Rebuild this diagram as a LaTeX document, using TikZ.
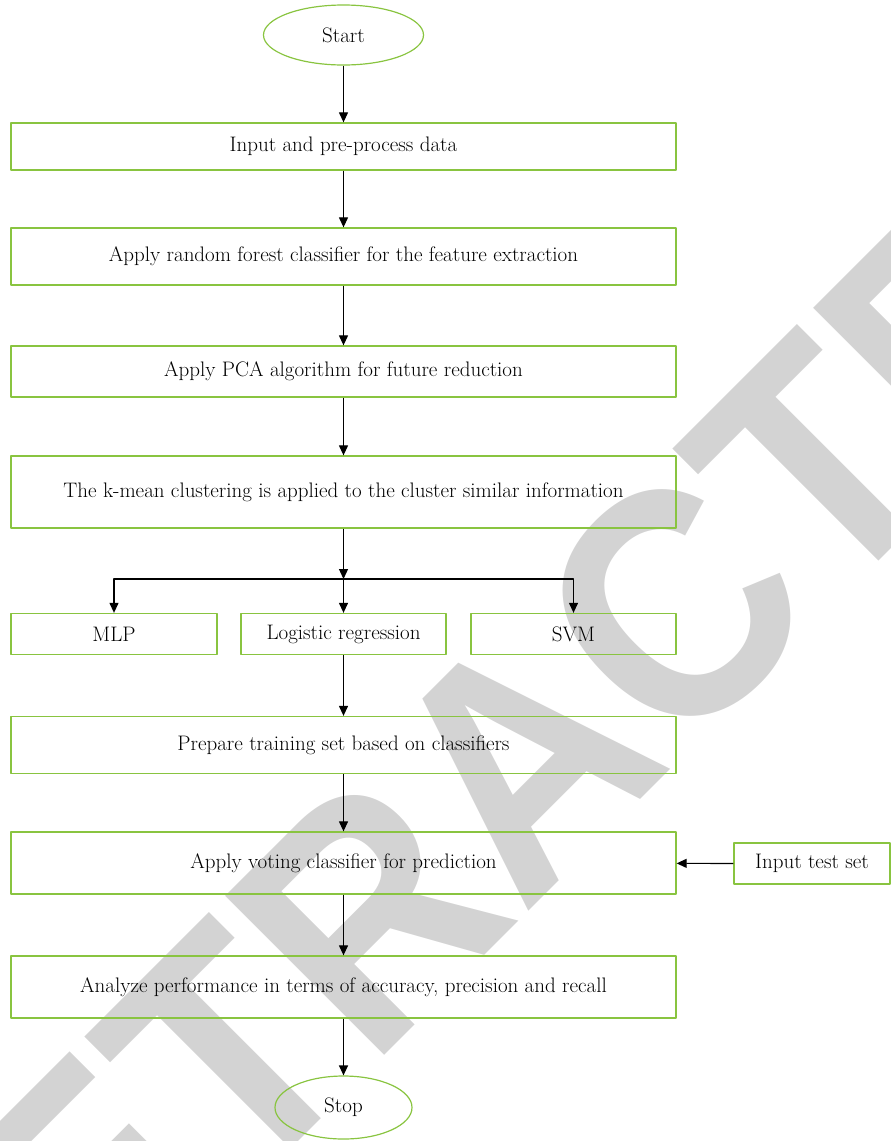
\documentclass[tikz,border=0pt]{standalone}
\usepackage{fontspec}
\newfontfamily\wmfont{Liberation Sans}
\usetikzlibrary{arrows.meta,shapes.geometric}
\definecolor{boxgreen}{RGB}{137,196,64}
\definecolor{wmgray}{RGB}{211,211,211}
\begin{document}
\begin{tikzpicture}[x=1pt, y=-1pt, font=\fontsize{21}{23}\selectfont, line join=round, >={Triangle[length=10pt,width=9pt]},
	box/.style={draw=boxgreen, line width=1.3pt, inner sep=0pt, minimum width=665pt},
	oval/.style={ellipse, draw=boxgreen, line width=1.2pt, inner sep=0pt},
	wm/.style={text=wmgray, inner sep=0pt, font=\wmfont\bfseries\fontsize{327}{327}\selectfont}]
		\useasboundingbox (0,0) rectangle (891,1141);
		\begin{scope}
		\clip (0,0) rectangle (891,1141);
		\node[wm, rotate=45, xscale=0.915, anchor=base] (stamp) at (600,840) {RETRACTED};
		\end{scope}
		\node[oval, minimum width=160pt, minimum height=60pt] (start) at (343.5,35) {Start};
		\node[box, minimum height=47pt] (input) at (343.5,146.5) {Input and pre-process data};
		\node[box, minimum height=57pt] (forest) at (343.5,256.5) {Apply random forest classifier for the feature extraction};
		\node[box, minimum height=51pt] (pca) at (343.5,371.5) {Apply PCA algorithm for future reduction};
		\node[box, minimum height=72pt] (kmean) at (343.5,492) {The k-mean clustering is applied to the cluster similar information};
		\coordinate (split) at (343.5,579);
		\node[box, minimum width=206pt, minimum height=41pt] (mlp) at (114,634) {MLP};
		\node[box, minimum width=205pt, minimum height=41pt] (logreg) at (343.5,634) {Logistic regression};
		\node[box, minimum width=205pt, minimum height=41pt] (svm) at (573.5,634) {SVM};
		\node[box, minimum height=57pt] (train) at (343.5,745) {Prepare training set based on classifiers};
		\node[box, minimum height=62pt] (vote) at (343.5,863) {Apply voting classifier for prediction};
		\node[box, minimum width=156pt, minimum height=41pt] (testset) at (812,863.5) {Input test set};
		\node[box, minimum height=62pt] (analyze) at (343.5,987) {Analyze performance in terms of accuracy, precision and recall};
		\node[oval, minimum width=137pt, minimum height=63pt] (stop) at (343.5,1107.5) {Stop};
		% main flow
		\draw[->, line width=1.2pt] (start) -- (input);
		\draw[->, line width=1.2pt] (input) -- (forest);
		\draw[->, line width=1.2pt] (forest) -- (pca);
		\draw[->, line width=1.2pt] (pca) -- (kmean);
		\draw[->, line width=1.2pt] (kmean) -- (split);
		\draw[->, line width=1.2pt] (split) -| (mlp);
		\draw[->, line width=1.2pt] (split) -- (logreg);
		\draw[->, line width=1.2pt] (split) -| (svm);
		\draw[->, line width=1.2pt] (logreg) -- (train);
		\draw[->, line width=1.2pt] (train) -- (vote);
		\draw[->, line width=1.2pt] (testset) -- (vote);
		\draw[->, line width=1.2pt] (vote) -- (analyze);
		\draw[->, line width=1.2pt] (analyze) -- (stop);
\end{tikzpicture}
\end{document}
